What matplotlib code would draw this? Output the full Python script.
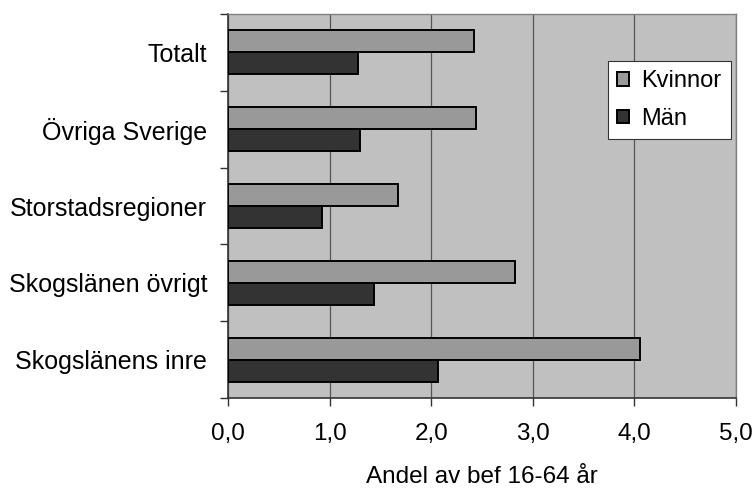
"""
Horizontal grouped bars: share of population 16-64 by region, women vs men.
"""
import numpy as np
import matplotlib.pyplot as plt
from matplotlib.ticker import FuncFormatter

# --------- DATA ---------
regions = ["Skogslänens inre", "Skogslänen övrigt", "Storstadsregioner",
           "Övriga Sverige", "Totalt"]
kvinnor = [4.06, 2.82, 1.67, 2.44, 2.42]
man = [2.07, 1.44, 0.93, 1.30, 1.28]
xticks = [0, 1, 2, 3, 4, 5]

FS = 17.5
plt.rcParams["font.family"] = ["Liberation Sans", "DejaVu Sans"]

fig = plt.figure(figsize=(7.54, 4.88), dpi=100)
ax = fig.add_axes([0.3024, 0.1844, 0.6737, 0.7869])

y = np.arange(len(regions))
h = 0.286
ax.barh(y + h / 2, kvinnor, height=h, color="#999999", edgecolor="black",
        linewidth=1.4, label="Kvinnor", zorder=3)
ax.barh(y - h / 2, man, height=h, color="#333333", edgecolor="black",
        linewidth=1.4, label="Män", zorder=3)

ax.set_facecolor("#c0c0c0")
ax.set_xlim(0, 5)
ax.set_ylim(-0.5, len(regions) - 0.5)
ax.set_xticks(xticks)
ax.xaxis.set_major_formatter(FuncFormatter(lambda v, _: f"{v:.1f}".replace(".", ",")))
ax.grid(axis="x", color="#555555", linewidth=0.9, zorder=1)

# category labels centred, tick marks at category boundaries
ax.set_yticks(y)
ax.set_yticklabels(regions)
ax.set_yticks(np.arange(-0.5, len(regions)), minor=True)
ax.tick_params(axis="y", which="major", length=0, pad=15, labelsize=18)
ax.tick_params(axis="y", which="minor", length=6, width=1, color="#333333")
ax.tick_params(axis="x", length=6, width=1, color="#333333", pad=12, labelsize=FS)

for s in ["left", "bottom"]:
    ax.spines[s].set_color("#333333")
    ax.spines[s].set_linewidth(1.2)
for s in ["top", "right"]:
    ax.spines[s].set_color("#808080")
    ax.spines[s].set_linewidth(1.0)

ax.set_xlabel("Andel av bef 16-64 år", fontsize=FS, labelpad=15)

leg = ax.legend(loc="upper left", bbox_to_anchor=(0.748, 0.878), fontsize=17,
                frameon=True, fancybox=False, framealpha=1, edgecolor="#333333",
                handlelength=0.5, handleheight=0.5, handletextpad=0.5,
                borderpad=0.4, labelspacing=0.65, borderaxespad=0)
leg.get_frame().set_linewidth(0.8)

fig.savefig("out.png", dpi=100)
